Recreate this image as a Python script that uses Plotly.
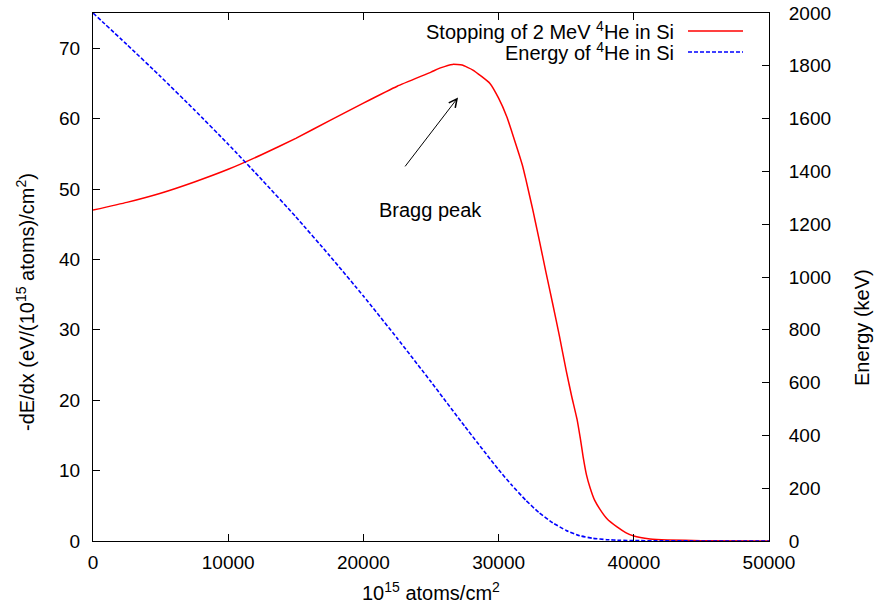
import plotly.graph_objects as go

# ---- data ----
depth_red = [0, 2500, 5000, 7500, 10000, 12500, 15000, 17500, 20000, 22500, 25000,
             25700, 26600, 27300, 28100, 29360, 30000, 30620, 31000, 31500, 31800,
             32000, 32500, 32690, 33000, 33500, 34000, 34500, 35000, 35400, 35800,
             36050, 36250, 36500, 36760, 37100, 37500, 38000, 38760, 39400, 40000,
             41200, 42500, 45000, 50000]
stopping = [47.0, 48.1, 49.4, 51.0, 52.8, 54.9, 57.2, 59.7, 62.2, 64.6, 66.6,
            67.2, 67.7, 67.6, 66.9, 65.0, 62.9, 60.2, 58.0, 55.0, 53.1,
            51.5, 47.3, 45.6, 42.8, 38.2, 33.7, 29.1, 24.2, 20.6, 17.3,
            14.5, 12.0, 9.4, 7.6, 5.8, 4.5, 3.2, 2.0, 1.2, 0.7,
            0.3, 0.15, 0.05, 0.0]

depth_blue = [0, 2500, 5000, 7500, 10000, 12500, 15000, 17500, 20000, 22500, 25000,
              27500, 30000, 31000, 32000, 33000, 34000, 35000, 36000, 37000, 38000,
              39000, 40000, 42000, 45000, 50000]
energy = [2000, 1881, 1759, 1633, 1503, 1368, 1228, 1081, 928, 768, 603,
          434, 270, 210, 155, 107, 69, 40, 20, 10, 5,
          2.7, 1.5, 0.7, 0.2, 0.0]

x_ticks = [0, 10000, 20000, 30000, 40000, 50000]
y_ticks = [0, 10, 20, 30, 40, 50, 60, 70]
y2_ticks = [0, 200, 400, 600, 800, 1000, 1200, 1400, 1600, 1800, 2000]

legend_red = "Stopping of 2 MeV <sup>4</sup>He in Si"
legend_blue = "Energy of <sup>4</sup>He in Si"
arrow_from = (23000, 53)
arrow_to = (27000, 63)
label_pos = (21000, 47)

FONT = "Liberation Sans, Arial, sans-serif"
FS_TICK = 19
FS = 20

# plot area in pixels
L, R, T, B = 93, 769, 13, 541
W, H = R - L, B - T


def px(x):
    return (x - L) / W


def py(y):
    return (B - y) / H


fig = go.Figure()
fig.add_trace(go.Scatter(x=depth_red, y=stopping, mode="lines",
                         line=dict(color="#ff0000", width=1.5, shape="spline", smoothing=0.4),
                         name="stopping", showlegend=False, yaxis="y"))
fig.add_trace(go.Scatter(x=depth_blue, y=energy, mode="lines",
                         line=dict(color="#0000ff", width=1.6, dash="4px,2px",
                                   shape="spline", smoothing=0.4),
                         name="energy", showlegend=False, yaxis="y2"))

axis_common = dict(showline=True, linecolor="black", linewidth=1, ticks="inside",
                   ticklen=7, tickcolor="black", showgrid=False, zeroline=False,
                   automargin=False,
                   tickfont=dict(family=FONT, size=FS_TICK, color="black"))

fig.update_layout(
    width=876, height=608,
    margin=dict(l=L, r=876 - R, t=T, b=608 - B),
    paper_bgcolor="white", plot_bgcolor="white",
    showlegend=False,
    font=dict(family=FONT, size=FS, color="black"),
    xaxis=dict(range=[0, 50000], tickvals=x_ticks, ticktext=[str(v) for v in x_ticks],
               mirror="ticks", ticklabelstandoff=4, **axis_common),
    yaxis=dict(range=[0, 75], tickvals=y_ticks, ticktext=[str(v) for v in y_ticks],
               ticklabelstandoff=8, **axis_common),
    yaxis2=dict(range=[0, 2000], tickvals=y2_ticks, ticktext=[str(v) for v in y2_ticks],
                overlaying="y", side="right", ticklabelstandoff=15, **axis_common),
)

tf = dict(family=FONT, size=FS, color="black")
ann = []
# axis titles
ann.append(dict(text="10<sup>15</sup> atoms/cm<sup>2</sup>", xref="paper", yref="paper",
                x=px(431), y=py(591), showarrow=False,
                xanchor="center", yanchor="middle", font=tf))
ann.append(dict(text="-dE/dx (eV/(10<sup>15</sup> atoms)/cm<sup>2</sup>)", xref="paper", yref="paper",
                x=px(25), y=py(302), showarrow=False, textangle=-90,
                xanchor="center", yanchor="middle", font=tf))
ann.append(dict(text="Energy (keV)", xref="paper", yref="paper",
                x=px(862), y=py(328), showarrow=False, textangle=-90,
                xanchor="center", yanchor="middle", font=tf))
# legend texts
ann.append(dict(text=legend_red, xref="paper", yref="paper",
                x=px(676), y=py(31), showarrow=False,
                xanchor="right", yanchor="middle", font=tf))
ann.append(dict(text=legend_blue, xref="paper", yref="paper",
                x=px(676), y=py(52), showarrow=False,
                xanchor="right", yanchor="middle", font=tf))
# Bragg peak label and arrow
ann.append(dict(text="Bragg peak", x=label_pos[0], y=label_pos[1], xref="x", yref="y",
                showarrow=False, xanchor="left", yanchor="middle", font=tf))
ann.append(dict(text="", x=arrow_to[0], y=arrow_to[1], xref="x", yref="y",
                ax=arrow_from[0], ay=arrow_from[1], axref="x", ayref="y",
                showarrow=True, arrowhead=5, arrowsize=1.6, arrowwidth=1, arrowcolor="black"))
fig.update_layout(annotations=ann)

# legend line samples
fig.add_shape(type="line", xref="paper", yref="paper",
              x0=px(688), x1=px(743), y0=py(31), y1=py(31),
              line=dict(color="#ff0000", width=1.5))
fig.add_shape(type="line", xref="paper", yref="paper",
              x0=px(688), x1=px(743), y0=py(52), y1=py(52),
              line=dict(color="#0000ff", width=1.6, dash="4px,2px"))

fig.write_html("out.html")
